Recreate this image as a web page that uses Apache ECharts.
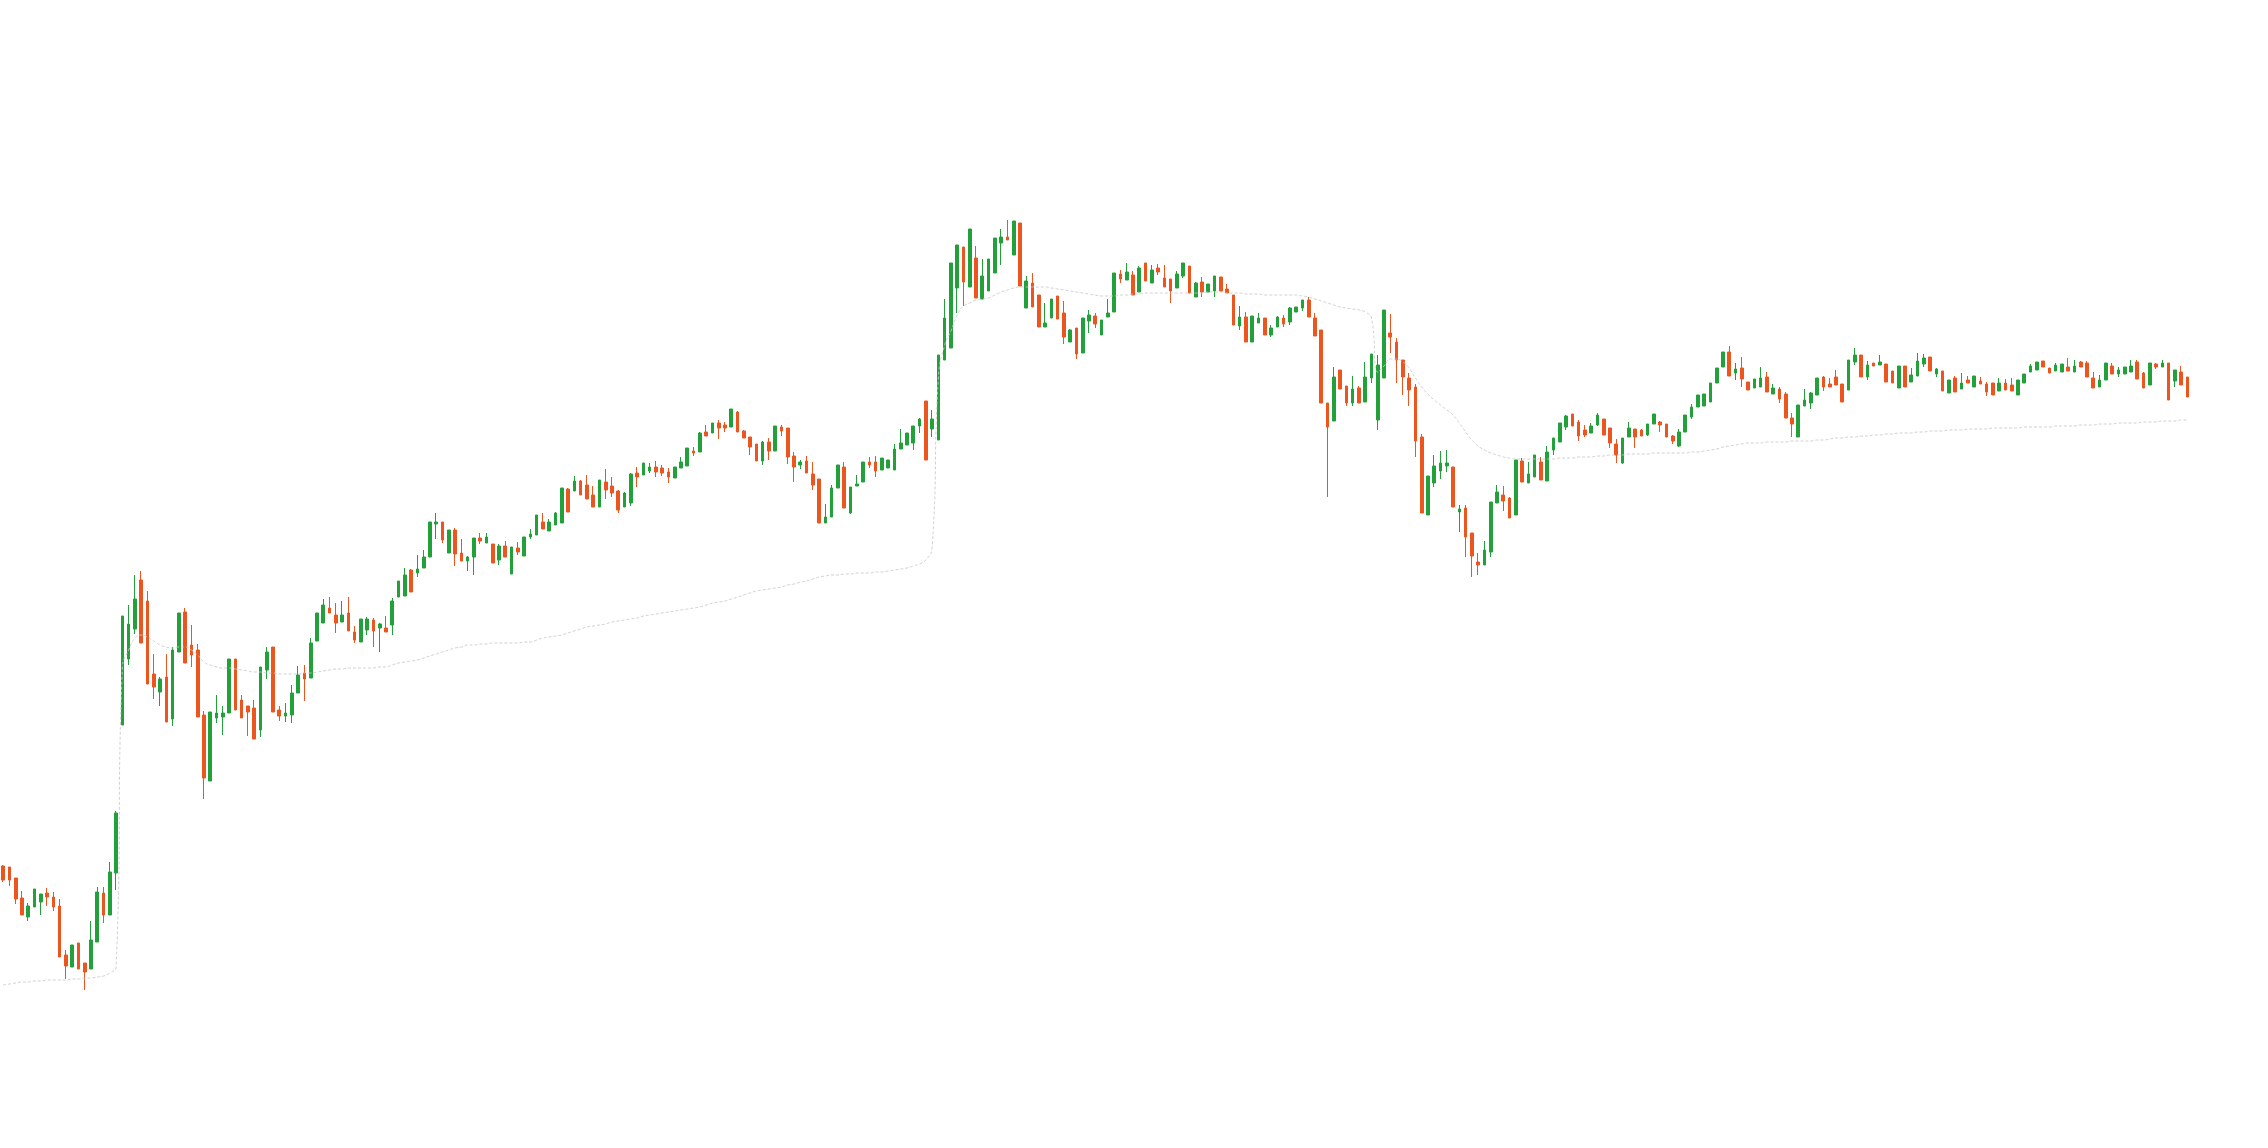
<!DOCTYPE html>
<html>
<head>
<meta charset="utf-8">
<style>
html,body{margin:0;padding:0;background:#fff;}
#chart{width:2268px;height:1148px;}
</style>
<script src="https://cdn.jsdelivr.net/npm/echarts@6/dist/echarts.min.js"></script>
</head>
<body>
<div id="chart"></div>
<script>
// [open, close, lowest, highest]
const candles = [
[28.2,26.8,26.6,28.3],[28.1,26.8,26.2,28.1],[27.0,24.9,24.4,27.0],[25.0,23.3,23.3,25.7],[23.1,24.2,22.7,24.5],
[24.1,25.9,24.1,25.9],[24.6,25.4,23.3,25.4],[25.5,25.1,24.2,26.0],[25.1,24.1,23.7,25.6],[24.2,19.1,19.1,24.9],
[19.3,18.2,16.9,19.8],[18.1,20.3,18.1,20.3],[20.5,17.9,17.9,20.5],[18.5,17.6,15.8,18.5],[17.9,20.8,17.9,22.7],
[20.6,25.6,20.6,26.1],[25.5,23.3,22.5,26.1],[23.3,27.6,23.3,28.6],[27.5,33.5,25.8,33.7],[42.3,53.2,42.3,53.2],
[48.9,52.4,48.3,54.3],[51.9,54.9,51.4,57.3],[56.8,50.5,50.5,57.7],[54.7,46.4,46.4,55.7],[47.4,46.1,44.9,49.4],
[45.6,46.9,44.2,47.1],[47.1,42.6,42.6,49.4],[42.9,49.8,42.2,50.1],[49.6,53.5,49.6,53.5],[53.6,48.5,48.5,54.0],
[50.3,49.3,48.1,52.3],[49.8,43.1,43.1,50.4],[43.3,37.0,34.9,43.7],[36.7,43.6,36.7,43.6],[43.0,43.5,42.5,45.3],
[43.1,43.5,41.3,44.2],[43.5,48.9,43.5,48.9],[48.9,43.8,43.8,48.9],[44.8,43.0,43.0,45.3],[44.2,43.6,41.2,44.2],
[44.0,40.9,40.9,44.8],[41.8,48.1,41.1,48.1],[47.8,49.6,46.9,50.1],[50.1,43.6,43.6,50.1],[43.8,43.2,42.7,44.2],
[43.2,43.5,42.6,44.5],[43.3,45.5,42.5,46.3],[45.5,47.3,45.5,48.2],[47.5,46.9,44.7,48.3],[47.0,50.5,47.0,51.0],
[50.7,53.5,50.7,53.5],[52.5,54.3,52.5,54.9],[54.0,53.5,53.5,55.1],[53.3,52.5,51.5,54.5],[52.6,53.3,52.6,54.7],
[53.5,51.7,51.7,55.1],[51.6,50.8,50.5,52.2],[50.6,52.9,50.6,52.9],[51.8,52.9,51.3,53.1],[52.8,51.7,50.1,53.0],
[52.0,52.4,49.6,52.5],[52.0,51.6,51.6,53.2],[52.3,54.7,51.3,55.0],[55.1,56.7,55.1,56.7],[55.2,57.3,55.2,58.0],
[57.8,55.6,55.6,57.9],[57.5,57.9,57.1,59.3],[58.0,59.1,58.0,59.8],[59.1,62.6,59.1,62.6],[62.4,62.6,60.9,63.5],
[62.6,60.8,60.5,62.6],[59.5,61.8,59.5,61.8],[61.8,59.4,58.2,62.0],[59.5,58.7,58.7,60.9],[58.7,59.1,57.7,59.2],
[59.1,61.0,57.3,61.0],[61.0,60.7,60.4,61.5],[60.5,61.1,60.5,61.5],[60.4,58.5,58.5,60.4],[58.8,60.2,58.3,60.4],
[60.2,59.1,59.1,60.7],[57.4,60.1,57.4,60.1],[60.0,59.6,59.3,60.6],[59.2,61.1,59.2,61.1],[61.1,61.4,60.9,61.9],
[61.3,63.3,61.3,63.3],[62.6,61.9,61.9,63.5],[61.7,62.6,61.7,62.9],[62.3,63.5,62.3,63.6],[62.5,66.0,62.5,66.0],
[65.9,63.6,63.6,66.0],[65.7,66.7,65.7,67.2],[66.7,65.3,65.3,66.8],[66.3,64.9,64.9,67.3],[65.3,64.1,64.1,66.2],
[64.1,66.8,64.1,66.8],[66.6,65.8,64.9,67.9],[66.2,65.5,65.1,67.1],[65.7,63.8,63.5,65.8],[64.1,65.5,64.1,65.6],
[64.5,67.4,64.2,67.5],[67.5,67.1,66.1,68.1],[67.3,68.5,67.3,68.5],[67.7,68.1,67.5,68.5],[68.1,67.6,67.1,68.7],
[68.0,67.5,67.2,68.3],[67.6,67.1,66.5,68.0],[67.0,68.1,67.0,68.1],[68.0,68.6,68.0,69.1],[68.2,70.0,68.2,70.0],
[69.7,69.5,69.2,70.1],[69.6,71.5,69.6,71.6],[71.6,71.2,71.2,72.3],[71.5,72.5,71.5,72.5],[72.5,72.0,70.9,72.8],
[72.3,72.0,71.6,72.6],[72.1,73.9,72.1,73.9],[73.6,71.6,71.6,73.7],[71.7,71.0,71.0,71.8],[71.1,70.1,69.3,71.1],
[70.4,68.7,68.7,70.4],[68.7,70.6,68.3,70.7],[70.6,69.7,68.8,71.0],[69.7,72.2,69.7,72.2],[72.1,71.7,71.2,72.3],
[72.0,69.1,68.4,72.0],[69.2,68.1,66.6,69.6],[68.3,68.6,67.9,68.8],[68.7,67.5,67.5,69.2],[67.4,66.3,65.8,68.6],
[66.9,62.5,62.5,66.9],[62.5,63.1,62.5,64.4],[63.1,66.0,63.1,66.3],[66.0,68.3,66.0,68.3],[68.1,64.0,64.0,68.6],
[63.5,66.1,63.4,66.1],[66.2,66.4,66.2,67.3],[66.6,68.6,66.6,68.6],[68.6,68.3,68.0,69.1],[68.6,67.7,67.1,69.2],
[67.8,69.0,67.8,69.0],[68.0,68.8,68.0,68.8],[67.8,69.9,67.8,70.4],[69.9,70.5,69.9,71.9],[70.3,71.5,70.3,71.5],
[70.5,72.2,69.8,72.2],[72.2,72.9,71.5,73.0],[74.7,68.8,68.8,74.7],[71.9,72.9,71.1,73.8],[70.8,79.3,70.8,79.3],
[78.8,83.0,78.8,84.9],[80.0,88.5,80.0,88.5],[86.0,90.3,83.5,90.3],[90.1,86.6,84.2,90.1],[86.1,91.9,86.1,91.9],
[89.0,85.0,85.0,90.2],[84.9,87.2,84.9,88.9],[85.7,88.9,85.7,88.9],[87.5,91.0,87.5,91.0],[90.5,91.1,88.3,91.9],
[91.1,90.8,90.8,92.8],[89.3,92.7,89.3,92.7],[92.5,86.2,86.2,92.5],[84.0,86.7,84.0,87.2],[86.5,84.1,84.1,87.5],
[85.3,82.1,82.1,85.3],[82.1,82.5,82.1,84.5],[83.0,84.9,83.0,84.9],[85.2,82.9,82.9,85.2],[83.5,81.1,80.4,84.7],
[80.6,81.8,80.6,81.9],[82.0,79.4,78.9,82.0],[79.5,83.0,79.5,83.0],[82.7,83.3,81.5,83.8],[83.2,82.4,82.0,83.5],
[81.3,82.8,81.3,82.8],[83.1,83.5,83.1,84.9],[83.6,87.5,83.6,87.5],[87.4,86.9,86.5,87.8],[86.8,87.6,86.8,88.5],
[87.3,85.3,85.3,87.7],[85.6,88.0,85.6,88.2],[88.5,86.7,86.7,88.5],[86.5,87.8,86.5,88.3],[88.0,87.6,87.3,88.4],
[87.0,86.1,86.1,88.3],[86.9,85.7,84.5,86.9],[86.0,87.4,86.0,87.7],[87.2,88.5,87.0,88.5],[88.2,85.5,85.5,88.2],
[85.1,86.5,85.1,86.6],[86.6,85.6,85.1,87.1],[85.6,86.4,85.6,86.4],[85.7,87.2,85.1,87.2],[87.1,85.7,85.7,87.1],
[85.9,85.5,85.5,86.4],[85.3,82.3,82.3,85.3],[82.2,83.1,81.8,84.2],[83.1,80.6,80.6,83.6],[80.6,83.2,80.6,83.2],
[82.5,83.0,82.5,83.5],[83.0,81.3,81.3,83.0],[81.3,82.0,81.1,82.3],[82.1,83.1,82.1,83.2],[83.0,82.4,82.1,83.3],
[82.6,84.0,82.3,84.1],[83.6,84.1,83.6,84.1],[84.0,84.8,83.7,84.8],[84.8,83.1,83.1,85.1],[83.0,81.2,81.2,83.5],
[81.8,74.5,74.5,81.8],[74.5,72.1,65.1,74.5],[72.7,77.1,72.7,78.1],[77.8,75.9,75.9,77.8],[76.2,74.5,74.2,76.2],
[74.5,75.9,74.2,77.2],[76.0,74.5,74.5,76.2],[74.6,77.1,74.6,78.6],[77.0,79.4,76.5,79.4],[72.8,78.3,71.8,79.3],
[77.0,83.8,77.0,83.8],[81.5,81.1,79.5,83.4],[80.6,78.8,76.5,81.0],[78.8,77.1,75.3,78.8],[77.0,75.8,74.2,77.5],
[76.1,70.7,69.1,76.4],[71.1,63.5,63.5,71.4],[63.3,67.2,63.3,67.2],[66.5,68.2,66.1,69.3],[67.7,68.5,66.9,69.7],
[68.2,68.5,67.6,69.8],[68.1,64.1,64.1,68.1],[63.6,63.9,61.6,64.3],[64.0,61.1,59.1,64.3],[61.5,59.2,57.1,61.5],
[58.6,58.3,57.3,59.5],[58.3,59.8,58.3,60.7],[59.6,64.6,59.1,64.6],[64.5,65.6,64.5,66.3],[65.3,64.7,63.7,66.2],
[65.0,63.0,63.0,65.1],[63.3,68.8,63.3,68.8],[68.7,66.6,66.6,69.0],[66.5,67.4,66.5,68.6],[67.1,69.3,67.1,69.3],
[68.6,66.8,66.8,69.1],[66.7,69.6,66.7,70.2],[69.8,71.0,69.3,71.0],[70.6,72.5,70.6,72.5],[72.1,73.2,71.8,73.3],
[73.4,72.2,72.2,73.4],[72.6,71.2,70.7,72.8],[71.8,71.3,71.1,72.3],[71.5,72.2,71.5,72.5],[72.3,73.3,72.2,73.5],
[72.9,71.3,71.3,72.9],[72.0,70.5,70.0,72.0],[70.4,69.3,68.5,70.9],[68.5,71.0,68.4,71.0],[71.1,72.0,71.1,72.6],
[71.9,71.1,70.0,71.9],[71.8,71.2,71.2,71.9],[71.3,72.4,71.2,72.4],[72.4,73.4,72.4,73.4],[72.6,72.3,71.6,72.7],
[72.4,71.1,71.1,72.4],[71.2,70.7,70.4,71.3],[70.2,71.6,70.1,71.9],[71.6,73.3,71.6,73.3],[73.1,74.1,72.9,74.4],
[74.1,75.3,74.1,75.3],[74.2,75.4,74.2,75.4],[74.6,76.5,74.6,76.5],[76.5,78.0,76.5,78.0],[78.1,79.6,78.1,79.6],
[79.6,77.2,77.2,80.2],[77.5,77.9,76.8,78.5],[78.0,76.9,76.1,79.1],[76.6,75.8,75.8,76.6],[76.0,76.9,76.0,76.9],
[76.1,77.0,76.1,78.1],[77.1,75.6,75.6,77.6],[75.4,76.0,75.4,76.4],[75.9,74.9,74.5,76.1],[75.4,73.0,73.0,75.6],
[73.0,72.4,71.1,73.5],[71.1,74.3,71.1,74.3],[74.2,74.8,74.2,75.9],[74.5,75.5,73.9,75.6],[75.3,77.0,75.3,77.0],
[77.1,76.1,75.7,77.2],[76.4,76.1,76.1,77.0],[77.1,76.3,76.3,77.8],[76.4,74.6,74.6,76.4],[75.8,78.8,75.8,78.8],
[78.6,79.3,78.3,80.0],[79.3,77.1,77.1,79.3],[77.1,78.3,76.8,78.7],[78.5,78.2,78.2,78.5],[78.3,78.6,78.3,79.3],
[78.4,76.6,76.6,78.4],[77.7,76.5,76.5,77.7],[76.0,78.2,76.0,78.2],[78.2,76.1,76.1,78.2],[76.6,77.3,76.6,78.0],
[77.2,78.7,77.2,79.5],[78.4,79.0,78.1,79.4],[79.1,77.7,77.7,79.1],[77.4,77.9,77.1,78.0],[77.7,75.7,75.7,77.7],
[75.5,76.8,75.5,76.8],[77.0,75.6,75.6,77.2],[75.9,76.5,75.9,77.5],[76.8,76.5,76.5,77.2],[76.1,77.2,76.1,77.2],
[76.7,76.4,76.4,77.1],[76.4,75.6,75.2,76.6],[76.5,75.3,75.3,76.5],[75.7,76.5,75.7,77.0],[76.5,75.8,75.8,76.9],
[76.3,75.7,75.7,77.0],[75.3,76.8,75.3,76.8],[76.5,77.4,76.5,77.4],[77.6,78.2,77.6,78.4],[77.8,78.6,77.8,78.6],
[78.7,78.1,78.1,78.7],[78.0,77.5,77.5,78.0],[77.7,78.3,77.7,78.5],[77.6,78.4,77.6,78.4],[78.1,77.7,77.7,79.0],
[77.6,78.2,77.6,78.8],[78.6,78.1,78.1,78.7],[78.5,77.1,77.1,78.7],[77.0,76.0,76.0,77.6],[76.1,76.8,76.1,77.3],
[76.8,78.5,76.8,78.5],[78.2,77.4,77.4,78.5],[77.4,77.8,77.1,78.1],[77.4,78.1,77.4,78.1],[77.6,78.2,77.6,78.8],
[78.6,76.9,76.9,78.8],[77.5,76.0,76.0,77.6],[76.3,78.5,76.3,78.5],[78.4,78.1,77.9,78.5],[78.1,78.5,78.1,78.8],
[78.5,74.8,74.8,78.5],[76.7,77.8,76.1,77.8],[77.6,76.3,76.3,78.2],[77.1,75.1,75.1,77.1]
];

const trendLine = [
16.3,16.4,16.5,16.6,16.6,16.7,16.7,16.8,16.8,16.8,
16.8,16.9,16.9,17.0,17.0,17.1,17.2,17.5,18.1,48.1,
49.8,51.0,51.3,51.1,50.7,50.3,50.1,50.0,50.1,50.1,
49.8,49.3,48.6,48.3,48.1,48.0,48.0,47.9,47.8,47.7,
47.6,47.6,47.5,47.5,47.4,47.4,47.4,47.4,47.5,47.5,
47.6,47.7,47.8,47.9,47.9,48.0,48.0,48.0,48.0,48.0,
48.1,48.1,48.3,48.5,48.6,48.7,48.8,49.0,49.2,49.4,
49.6,49.8,50.0,50.1,50.3,50.3,50.4,50.4,50.5,50.5,
50.5,50.5,50.5,50.6,50.6,50.8,51.0,51.1,51.2,51.3,
51.5,51.7,51.9,52.1,52.2,52.3,52.4,52.6,52.7,52.8,
52.9,53.0,53.2,53.3,53.4,53.5,53.6,53.7,53.8,53.9,
54.0,54.1,54.3,54.5,54.6,54.7,54.9,55.1,55.3,55.5,
55.7,55.8,55.9,56.0,56.1,56.3,56.4,56.6,56.7,56.9,
57.1,57.2,57.3,57.3,57.4,57.4,57.5,57.5,57.5,57.6,
57.6,57.7,57.8,57.9,58.0,58.2,58.4,58.8,60.0,77.0,
80.3,81.7,83.3,84.2,84.5,84.8,84.9,85.0,85.3,85.6,
85.8,86.0,86.1,86.1,86.1,86.1,86.1,86.0,85.9,85.8,
85.7,85.6,85.5,85.4,85.3,85.2,85.2,85.2,85.3,85.3,
85.4,85.4,85.5,85.5,85.5,85.5,85.5,85.5,85.5,85.5,
85.5,85.5,85.6,85.6,85.6,85.5,85.5,85.5,85.4,85.4,
85.4,85.3,85.3,85.3,85.3,85.3,85.3,85.2,85.1,84.9,
84.7,84.5,84.3,84.1,84.0,83.9,83.8,83.6,83.0,77.6,
78.2,78.9,78.9,78.6,78.0,77.0,76.1,75.4,74.8,74.3,
73.8,73.3,72.5,71.6,70.8,70.2,69.8,69.5,69.3,69.1,
69.0,68.9,68.9,68.9,68.9,68.9,68.9,68.9,69.0,69.0,
69.0,69.1,69.1,69.1,69.2,69.2,69.3,69.3,69.3,69.4,
69.4,69.4,69.4,69.5,69.5,69.5,69.5,69.5,69.5,69.6,
69.6,69.7,69.8,69.9,70.1,70.2,70.3,70.4,70.5,70.5,
70.5,70.6,70.6,70.6,70.6,70.7,70.7,70.7,70.7,70.8,
70.8,70.9,71.0,71.0,71.1,71.1,71.2,71.2,71.3,71.3,
71.4,71.4,71.5,71.5,71.5,71.6,71.6,71.7,71.7,71.7,
71.8,71.8,71.8,71.9,71.9,71.9,71.9,72.0,72.0,72.0,
72.0,72.0,72.1,72.1,72.1,72.1,72.1,72.2,72.2,72.2,
72.2,72.3,72.3,72.3,72.4,72.4,72.4,72.5,72.5,72.5,
72.5,72.6,72.6,72.6,72.7,72.7,72.7,72.8,72.8
];

const categories = candles.map((_, i) => String(i + 1));

const chart = echarts.init(document.getElementById('chart'));
chart.setOption({
  animation: false,
  backgroundColor: '#ffffff',
  grid: { left: -3.6, right: 77.4, top: 0, bottom: 0 },
  xAxis: {
    type: 'category',
    data: categories,
    boundaryGap: true,
    show: false
  },
  yAxis: {
    type: 'value',
    min: 0,
    max: 114.8,
    show: false,
    splitLine: { show: false }
  },
  series: [
    {
      type: 'candlestick',
      data: candles,
      itemStyle: {
        color: '#22a13a',
        color0: '#ec561e',
        borderColor: '#22a13a',
        borderColor0: '#ec561e',
        borderWidth: 1
      }
    },
    {
      type: 'line',
      data: trendLine,
      smooth: true,
      showSymbol: false,
      symbol: 'none',
      lineStyle: { color: '#c8c8c8', width: 1, type: [3, 2], opacity: 0.85 },
      z: 3
    }
  ]
});
</script>
</body>
</html>
